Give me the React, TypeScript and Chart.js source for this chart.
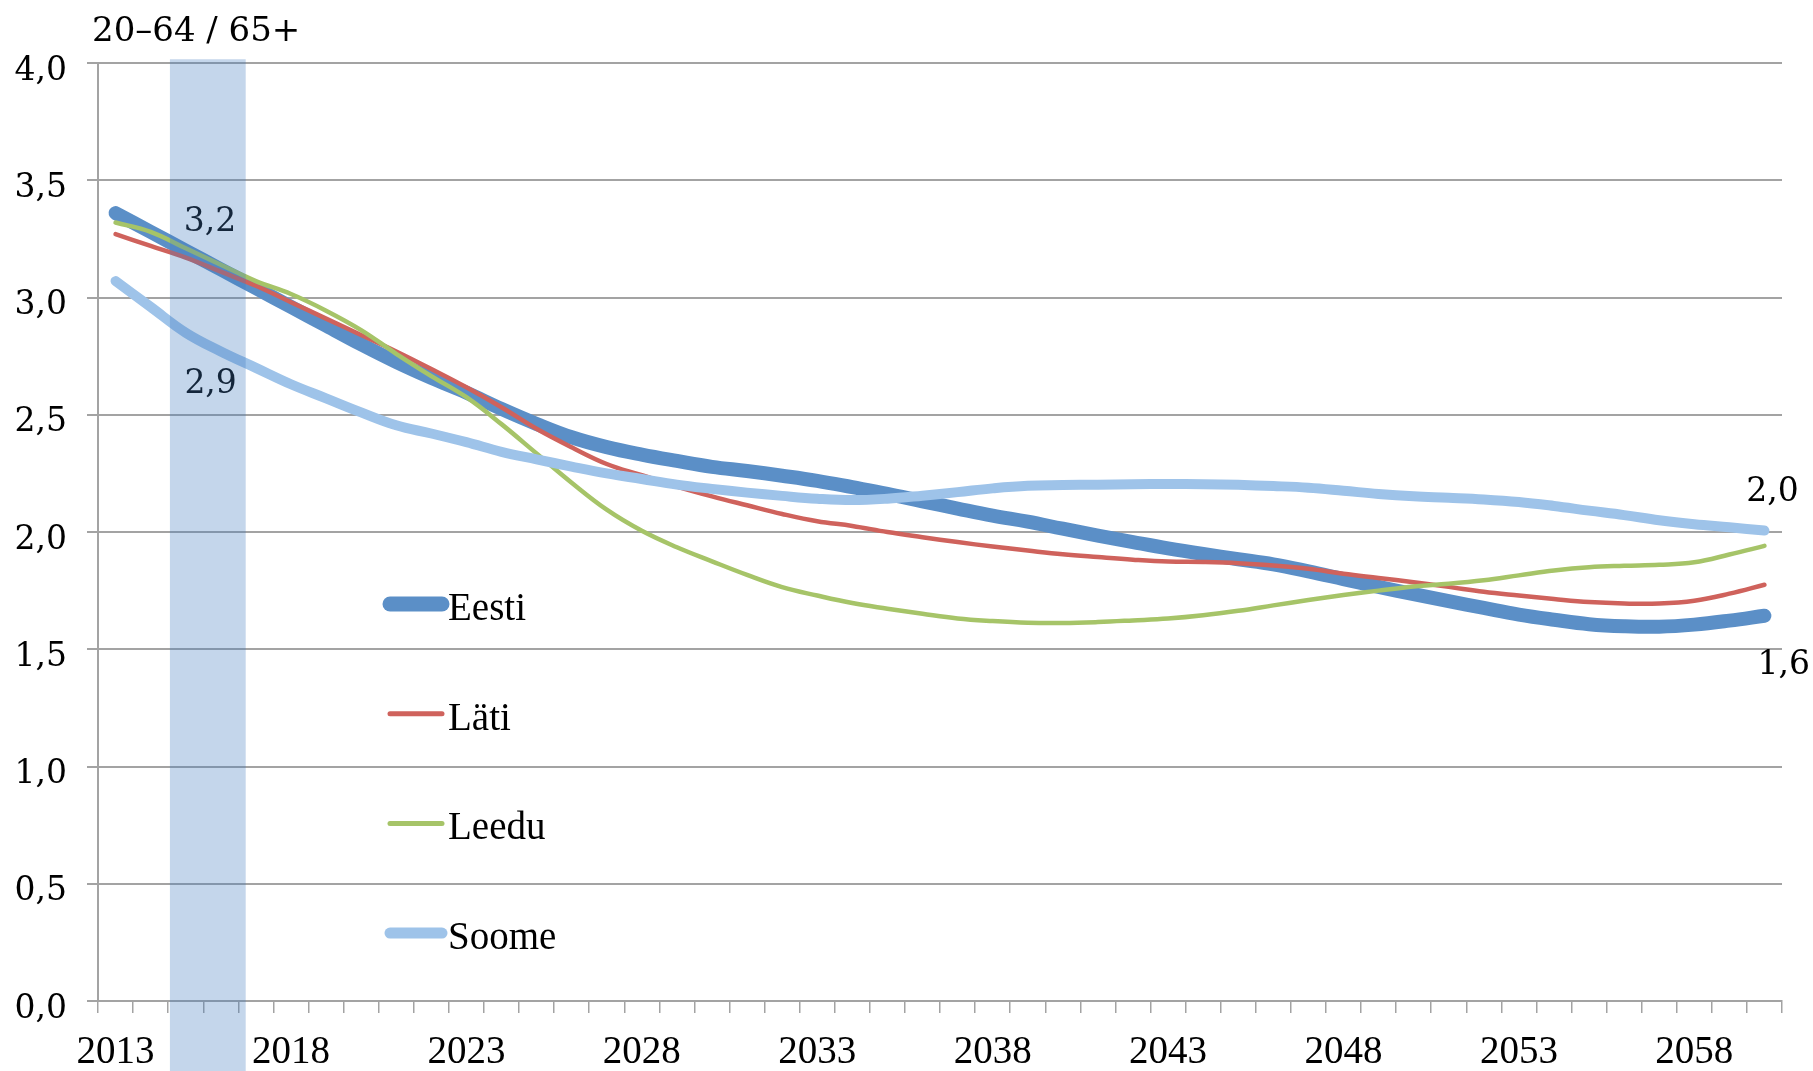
import React, { useEffect, useRef } from 'react';
import { Chart, registerables } from 'chart.js';

Chart.register(...registerables);

const years: string[] = [
  '2013', '2014', '2015', '2016', '2017', '2018', '2019', '2020', '2021', '2022',
  '2023', '2024', '2025', '2026', '2027', '2028', '2029', '2030', '2031', '2032',
  '2033', '2034', '2035', '2036', '2037', '2038', '2039', '2040', '2041', '2042',
  '2043', '2044', '2045', '2046', '2047', '2048', '2049', '2050', '2051', '2052',
  '2053', '2054', '2055', '2056', '2057', '2058', '2059', '2060',
];

const eesti: number[] = [
  3.36, 3.28, 3.2, 3.12, 3.04, 2.96, 2.88, 2.8, 2.725, 2.657,
  2.594, 2.525, 2.461, 2.404, 2.362, 2.33, 2.303, 2.278, 2.26, 2.24,
  2.218, 2.191, 2.163, 2.131, 2.1, 2.07, 2.044, 2.014, 1.985, 1.957,
  1.93, 1.906, 1.884, 1.862, 1.832, 1.799, 1.766, 1.735, 1.705, 1.676,
  1.648, 1.626, 1.607, 1.598, 1.596, 1.605, 1.622, 1.643,
];

const lati: number[] = [
  3.27, 3.22, 3.17, 3.11, 3.05, 2.98, 2.91, 2.84, 2.77, 2.695,
  2.617, 2.532, 2.44, 2.361, 2.29, 2.242, 2.194, 2.152, 2.114, 2.077,
  2.046, 2.026, 2.0, 1.978, 1.957, 1.938, 1.921, 1.905, 1.893, 1.882,
  1.874, 1.872, 1.867, 1.857, 1.843, 1.822, 1.804, 1.786, 1.766, 1.745,
  1.729, 1.714, 1.701, 1.695, 1.695, 1.707, 1.737, 1.775,
];

const leedu: number[] = [
  3.32, 3.28, 3.21, 3.14, 3.07, 3.015, 2.944, 2.861, 2.76, 2.665,
  2.575, 2.46, 2.335, 2.21, 2.095, 2.005, 1.935, 1.875, 1.817, 1.765,
  1.729, 1.697, 1.673, 1.651, 1.631, 1.62, 1.613, 1.612, 1.616, 1.623,
  1.631, 1.645, 1.664, 1.687, 1.71, 1.731, 1.75, 1.768, 1.779, 1.794,
  1.815, 1.836, 1.85, 1.856, 1.86, 1.871, 1.904, 1.941,
];

const soome: number[] = [
  3.07, 2.96, 2.85, 2.77, 2.7, 2.63, 2.57, 2.51, 2.455, 2.42,
  2.383, 2.342, 2.31, 2.279, 2.25, 2.226, 2.202, 2.184, 2.168, 2.154,
  2.142, 2.136, 2.142, 2.155, 2.17, 2.186, 2.197, 2.2, 2.202, 2.204,
  2.205, 2.204, 2.201, 2.196, 2.189, 2.176, 2.162, 2.152, 2.146, 2.139,
  2.128, 2.111, 2.091, 2.072, 2.05, 2.033, 2.02, 2.006,
];

const seriesNames: string[] = ['Eesti', 'Läti', 'Leedu', 'Soome'];
const seriesColors: string[] = ['#5B8FC7', '#CF625C', '#A6C468', '#9EC3E9'];
const seriesWidths: number[] = [14, 4.5, 4.5, 10];

const yAxisTitle = '20–64 / 65+';
const noteLabels: string[] = ['3,2', '2,9', '2,0', '1,6'];

const SERIF = "'DejaVu Serif', Georgia, serif";
const TIMES = "'Liberation Serif', 'Times New Roman', serif";

const overlayPlugin = {
  id: 'overlay',
  afterDraw(chart: any) {
    const ctx = chart.ctx;
    const xs = chart.scales.x;
    const ys = chart.scales.y;
    ctx.save();

    // axis title
    ctx.fillStyle = '#000';
    ctx.font = `34px ${SERIF}`;
    ctx.textAlign = 'left';
    ctx.textBaseline = 'alphabetic';
    ctx.fillText(yAxisTitle, 92, 41);

    // value notes
    ctx.font = `33px ${SERIF}`;
    ctx.textAlign = 'center';
    ctx.textBaseline = 'middle';
    const notePos = [
      [2.69, 3.32],
      [2.71, 2.63],
      [47.23, 2.17],
      [47.55, 1.43],
    ];
    noteLabels.forEach((t, i) => {
      ctx.fillText(t, xs.getPixelForValue(notePos[i][0]), ys.getPixelForValue(notePos[i][1]));
    });

    // legend
    const legendX0 = 390;
    const legendX1 = 442;
    const legendY0 = 604;
    const legendStep = 109.7;
    ctx.font = `39px ${TIMES}`;
    ctx.textAlign = 'left';
    ctx.textBaseline = 'alphabetic';
    seriesNames.forEach((name, i) => {
      const y = legendY0 + i * legendStep;
      ctx.beginPath();
      ctx.strokeStyle = seriesColors[i];
      ctx.lineWidth = i === 0 ? 15 : i === 3 ? 11 : 5;
      ctx.lineCap = 'round';
      ctx.moveTo(legendX0, y);
      ctx.lineTo(legendX1, y);
      ctx.stroke();
      ctx.fillStyle = '#000';
      ctx.fillText(name, 448, y + 16);
    });

    // highlighted band (semi-transparent overlay)
    const bx0 = xs.getPixelForValue(1.55);
    const bx1 = xs.getPixelForValue(3.71);
    const by0 = ys.getPixelForValue(4.016);
    ctx.fillStyle = 'rgba(66,122,190,0.31)';
    ctx.fillRect(bx0, by0, bx1 - bx0, chart.height - by0);

    ctx.restore();
  },
};

export default function App() {
  const ref = useRef<HTMLCanvasElement | null>(null);

  useEffect(() => {
    document.body.style.margin = '0';
    const canvas = ref.current;
    if (!canvas) return;
    const data = [eesti, lati, leedu, soome];
    const chart = new Chart(canvas, {
      type: 'line',
      data: {
        labels: years,
        datasets: seriesNames.map((name, i) => ({
          label: name,
          data: data[i],
          borderColor: seriesColors[i],
          backgroundColor: seriesColors[i],
          borderWidth: seriesWidths[i],
          borderCapStyle: 'round',
          borderJoinStyle: 'round',
          pointRadius: 0,
          pointHoverRadius: 0,
          tension: 0.4,
          fill: false,
          order: 4 - i,
        })),
      },
      options: {
        responsive: false,
        animation: false,
        events: [],
        layout: { padding: { left: 0, right: 31, top: 63, bottom: 0 } },
        plugins: {
          legend: { display: false },
          tooltip: { enabled: false },
          title: { display: false },
        },
        scales: {
          x: {
            offset: true,
            afterFit: (s: any) => {
              s.height = 70;
            },
            grid: {
              display: true,
              drawOnChartArea: false,
              drawTicks: true,
              tickLength: 12,
              offset: true,
              color: '#A3A3A3',
              lineWidth: 1.5,
            },
            border: { display: true, color: '#A3A3A3', width: 2 },
            ticks: {
              autoSkip: false,
              maxRotation: 0,
              minRotation: 0,
              padding: 16,
              color: '#000',
              font: { family: TIMES, size: 39 },
              callback: (_v: any, i: number) => (i % 5 === 0 ? years[i] : ''),
            },
          },
          y: {
            min: 0,
            max: 4,
            afterFit: (s: any) => {
              s.width = 98;
            },
            grid: {
              color: '#A3A3A3',
              lineWidth: 2,
              drawTicks: true,
              tickLength: 11,
            },
            border: { display: true, color: '#A3A3A3', width: 2 },
            ticks: {
              stepSize: 0.5,
              padding: 20,
              labelOffset: 8,
              color: '#000',
              font: { family: SERIF, size: 33 },
              callback: (v: any) => Number(v).toFixed(1).replace('.', ','),
            },
          },
        },
      },
      plugins: [overlayPlugin],
    } as any);
    return () => chart.destroy();
  }, []);

  return <canvas ref={ref} width={1813} height={1071} style={{ display: 'block' }} />;
}
